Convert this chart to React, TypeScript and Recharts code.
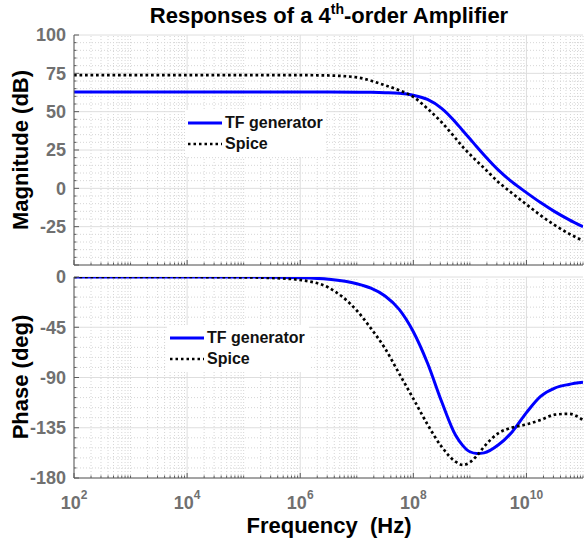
import React from "react";
import { LineChart, Line, XAxis, YAxis, ReferenceLine } from "recharts";

// ─── Data (x = log10 of frequency in Hz) ──────────────────────────────────────

const logFreq = [
  2, 3, 4, 5, 5.5, 6, 6.5, 7, 7.25, 7.5, 7.75, 8, 8.25, 8.5, 8.75, 8.875, 9,
  9.125, 9.25, 9.5, 9.75, 10, 10.25, 10.5, 10.75, 11,
];

const magTf = [
  62.8, 62.8, 62.8, 62.8, 62.8, 62.8, 62.8, 62.7, 62.6, 62.4, 62.0, 60.7, 58.0,
  52.2, 43.0, 37.6, 32.4, 26.9, 21.7, 12.0, 4.0, -2.8, -9.3, -15.2, -20.4, -25,
];

const magSpice = [
  73.8, 73.8, 73.8, 73.8, 73.8, 73.8, 73.6, 72.4, 70.2, 67.2, 64.0, 59.6, 52.0,
  43.1, 32.5, 27.0, 22.2, 17.6, 13.3, 4.2, -3.3, -10.5, -17.6, -24.0, -29.5,
  -34.2,
];

const phaseTf = [
  0, 0, 0, 0, -0.2, -0.6, -2, -6, -10, -17, -29, -49, -77, -111.5, -142, -151,
  -156.5, -158, -157.5, -150.5, -138.5, -121.5, -107, -99.5, -96.2, -94.3,
];

const phaseSpice = [
  0, 0, 0, -0.3, -0.9, -2.7, -9.5, -30, -46, -64, -86.5, -109, -132, -152,
  -165.5, -168.3, -166, -160, -152, -140, -134.8, -132, -128, -123.3, -122.5,
  -128,
];

const xMajor = [2, 4, 6, 8, 10];
const magLabels = [100, 75, 50, 25, 0, -25];
const magMajor = [100, 75, 50, 25, 0, -25, -50];
const phaseMajor = [0, -45, -90, -135, -180];

// minor positions for the log axis and the linear axes
const xMinor: number[] = [];
for (let d = 2; d < 11; d++) {
  for (let k = 2; k <= 10; k++) xMinor.push(d + Math.log10(k));
}
const isMajorX = (v: number) => xMajor.some((m) => Math.abs(m - v) < 1e-6);
const xAll = [...xMajor, ...xMinor.filter((v) => !isMajorX(v))];

const magMinor: number[] = [];
for (let v = -50; v <= 100; v += 5) if (v % 25 !== 0) magMinor.push(v);
const phaseMinor: number[] = [];
for (let v = -180; v <= 0; v += 9) if (v % 45 !== 0) phaseMinor.push(v);

const magRows = logFreq.map((f, i) => ({ f, tf: magTf[i], spice: magSpice[i] }));
const phaseRows = logFreq.map((f, i) => ({ f, tf: phaseTf[i], spice: phaseSpice[i] }));

// ─── Styles ───────────────────────────────────────────────────────────────────

const FONT = '"Liberation Sans", Arial, Helvetica, sans-serif';
const AXIS = "#5a5a5a";
const TICK_TXT = "#707070";
const GRID = "#dedede";
const GRID_MINOR = "#d6d6d6";
const BLUE = "#0000ff";

// ─── Ticks ────────────────────────────────────────────────────────────────────

function BottomTick(props: any) {
  const { x, y, payload, labels } = props;
  const v = payload.value;
  const major = isMajorX(v);
  return (
    <g>
      <line x1={x} x2={x} y1={y} y2={y - (major ? 5 : 2.5)} stroke={AXIS} />
      {labels && major && (
        <text
          x={x}
          y={y + 31}
          textAnchor="middle"
          fill={TICK_TXT}
          fontFamily={FONT}
          fontWeight="bold"
          fontSize={18}
        >
          10
          <tspan dy={-10} fontSize={12}>
            {v}
          </tspan>
        </text>
      )}
    </g>
  );
}

function TopTick(props: any) {
  const { x, y, payload } = props;
  const major = isMajorX(payload.value);
  return <line x1={x} x2={x} y1={y} y2={y + (major ? 5 : 2.5)} stroke={AXIS} />;
}

function LeftTick(props: any) {
  const { x, y, payload, major, labels } = props;
  const v = payload.value;
  const isMaj = major.includes(v);
  return (
    <g>
      <line x1={x} x2={x + (isMaj ? 5 : 2.5)} y1={y} y2={y} stroke={AXIS} />
      {labels.includes(v) && (
        <text
          x={x - 8}
          y={y}
          dy="0.36em"
          textAnchor="end"
          fill={TICK_TXT}
          fontFamily={FONT}
          fontWeight="bold"
          fontSize={18}
        >
          {v}
        </text>
      )}
    </g>
  );
}

function RightTick(props: any) {
  const { x, y, payload, major } = props;
  const isMaj = major.includes(payload.value);
  return <line x1={x} x2={x - (isMaj ? 5 : 2.5)} y1={y} y2={y} stroke={AXIS} />;
}

// ─── Legend ───────────────────────────────────────────────────────────────────

function LegendBox({ left, top, width }: { left: number; top: number; width: number }) {
  const row = (dotted: boolean, label: string) => (
    <div style={{ display: "flex", alignItems: "center", height: 21 }}>
      <svg width={35} height={6} style={{ marginLeft: 3, marginRight: 2 }}>
        <line
          x1={0}
          x2={34}
          y1={3}
          y2={3}
          stroke={dotted ? "#000" : BLUE}
          strokeWidth={dotted ? 2.5 : 3}
          strokeDasharray={dotted ? "2.5 3" : undefined}
        />
      </svg>
      <span style={{ fontFamily: FONT, fontWeight: "bold", fontSize: 16, color: "#111" }}>
        {label}
      </span>
    </div>
  );
  return (
    <div
      style={{
        position: "absolute",
        left,
        top,
        width,
        height: 47,
        background: "#fff",
        paddingTop: 2,
        boxSizing: "border-box",
      }}
    >
      {row(false, "TF generator")}
      {row(true, "Spice")}
    </div>
  );
}

// ─── One panel ────────────────────────────────────────────────────────────────

function Panel({
  rows,
  top,
  height,
  marginTop,
  axisHeight,
  domain,
  major,
  minor,
  labels,
  xLabels,
}: {
  rows: { f: number; tf: number; spice: number }[];
  top: number;
  height: number;
  marginTop: number;
  axisHeight: number;
  domain: [number, number];
  major: number[];
  minor: number[];
  labels: number[];
  xLabels: boolean;
}) {
  const yAll = [...major, ...minor];
  return (
    <LineChart
      width={584}
      height={height}
      data={rows}
      margin={{ top: marginTop, right: 1, bottom: 0, left: 0 }}
      style={{ position: "absolute", left: 0, top }}
    >
      <XAxis
        xAxisId="b"
        dataKey="f"
        type="number"
        domain={[2, 11]}
        allowDataOverflow
        ticks={xAll}
        interval={0}
        height={axisHeight}
        tickLine={false}
        tickSize={0}
        tickMargin={0}
        axisLine={{ stroke: AXIS }}
        tick={(p: any) => <BottomTick {...p} labels={xLabels} />}
      />
      <XAxis
        xAxisId="t"
        orientation="top"
        dataKey="f"
        type="number"
        domain={[2, 11]}
        allowDataOverflow
        ticks={xAll}
        interval={0}
        height={0}
        tickLine={false}
        tickSize={0}
        tickMargin={0}
        axisLine={{ stroke: AXIS }}
        tick={(p: any) => <TopTick {...p} />}
      />
      <YAxis
        yAxisId="l"
        type="number"
        domain={domain}
        allowDataOverflow
        ticks={yAll}
        interval={0}
        width={74}
        tickLine={false}
        tickSize={0}
        tickMargin={0}
        axisLine={{ stroke: AXIS }}
        tick={(p: any) => <LeftTick {...p} major={major} labels={labels} />}
      />
      <YAxis
        yAxisId="r"
        orientation="right"
        type="number"
        domain={domain}
        allowDataOverflow
        ticks={yAll}
        interval={0}
        width={0}
        tickLine={false}
        tickSize={0}
        tickMargin={0}
        axisLine={{ stroke: AXIS }}
        tick={(p: any) => <RightTick {...p} major={major} />}
      />
      {xAll
        .filter((v) => !isMajorX(v))
        .map((v) => (
          <ReferenceLine
            key={"xm" + v}
            xAxisId="b"
            yAxisId="l"
            x={v}
            stroke={GRID_MINOR}
            strokeDasharray="1 2"
            zIndex={-50}
          />
        ))}
      {minor.map((v) => (
        <ReferenceLine
          key={"ym" + v}
          xAxisId="b"
          yAxisId="l"
          y={v}
          stroke={GRID_MINOR}
          strokeDasharray="1 2"
          zIndex={-50}
        />
      ))}
      {xMajor.map((v) => (
        <ReferenceLine key={"xM" + v} xAxisId="b" yAxisId="l" x={v} stroke={GRID} zIndex={-40} />
      ))}
      {major.map((v) => (
        <ReferenceLine key={"yM" + v} xAxisId="b" yAxisId="l" y={v} stroke={GRID} zIndex={-40} />
      ))}
      <Line
        xAxisId="b"
        yAxisId="l"
        type="monotone"
        dataKey="tf"
        stroke={BLUE}
        strokeWidth={3}
        dot={false}
        isAnimationActive={false}
      />
      <Line
        xAxisId="b"
        yAxisId="l"
        type="monotone"
        dataKey="spice"
        stroke="#000"
        strokeWidth={2.7}
        strokeDasharray="2.7 2.8"
        dot={false}
        isAnimationActive={false}
      />
    </LineChart>
  );
}

// ─── App ──────────────────────────────────────────────────────────────────────

export default function App() {
  return (
    <div
      style={{
        position: "absolute",
        left: 0,
        top: 0,
        width: 584,
        height: 545,
        background: "#fff",
        overflow: "hidden",
      }}
    >
      <Panel
        rows={magRows}
        top={0}
        height={270}
        marginTop={35}
        axisHeight={5}
        domain={[-50, 100]}
        major={magMajor}
        minor={magMinor}
        labels={magLabels}
        xLabels={false}
      />
      <Panel
        rows={phaseRows}
        top={255}
        height={290}
        marginTop={22}
        axisHeight={67}
        domain={[-180, 0]}
        major={phaseMajor}
        minor={phaseMinor}
        labels={phaseMajor}
        xLabels
      />
      <LegendBox left={185} top={110} width={141} />
      <LegendBox left={167} top={325} width={142} />
      <svg
        width={584}
        height={545}
        style={{ position: "absolute", left: 0, top: 0, pointerEvents: "none" }}
      >
        <text
          x={329}
          y={23}
          textAnchor="middle"
          fontFamily={FONT}
          fontWeight="bold"
          fontSize={22}
          fill="#000"
        >
          Responses of a 4
          <tspan dy={-9} fontSize={14}>
            th
          </tspan>
          <tspan dy={9}>-order Amplifier</tspan>
        </text>
        <text
          x={329}
          y={533}
          textAnchor="middle"
          fontFamily={FONT}
          fontWeight="bold"
          fontSize={22}
          fill="#000"
        >
          {"Frequency \u00a0(Hz)"}
        </text>
        <text
          transform="translate(28,150) rotate(-90)"
          textAnchor="middle"
          fontFamily={FONT}
          fontWeight="bold"
          fontSize={22}
          fill="#000"
        >
          Magnitude (dB)
        </text>
        <text
          transform="translate(28,377) rotate(-90)"
          textAnchor="middle"
          fontFamily={FONT}
          fontWeight="bold"
          fontSize={22}
          fill="#000"
        >
          Phase (deg)
        </text>
      </svg>
    </div>
  );
}
